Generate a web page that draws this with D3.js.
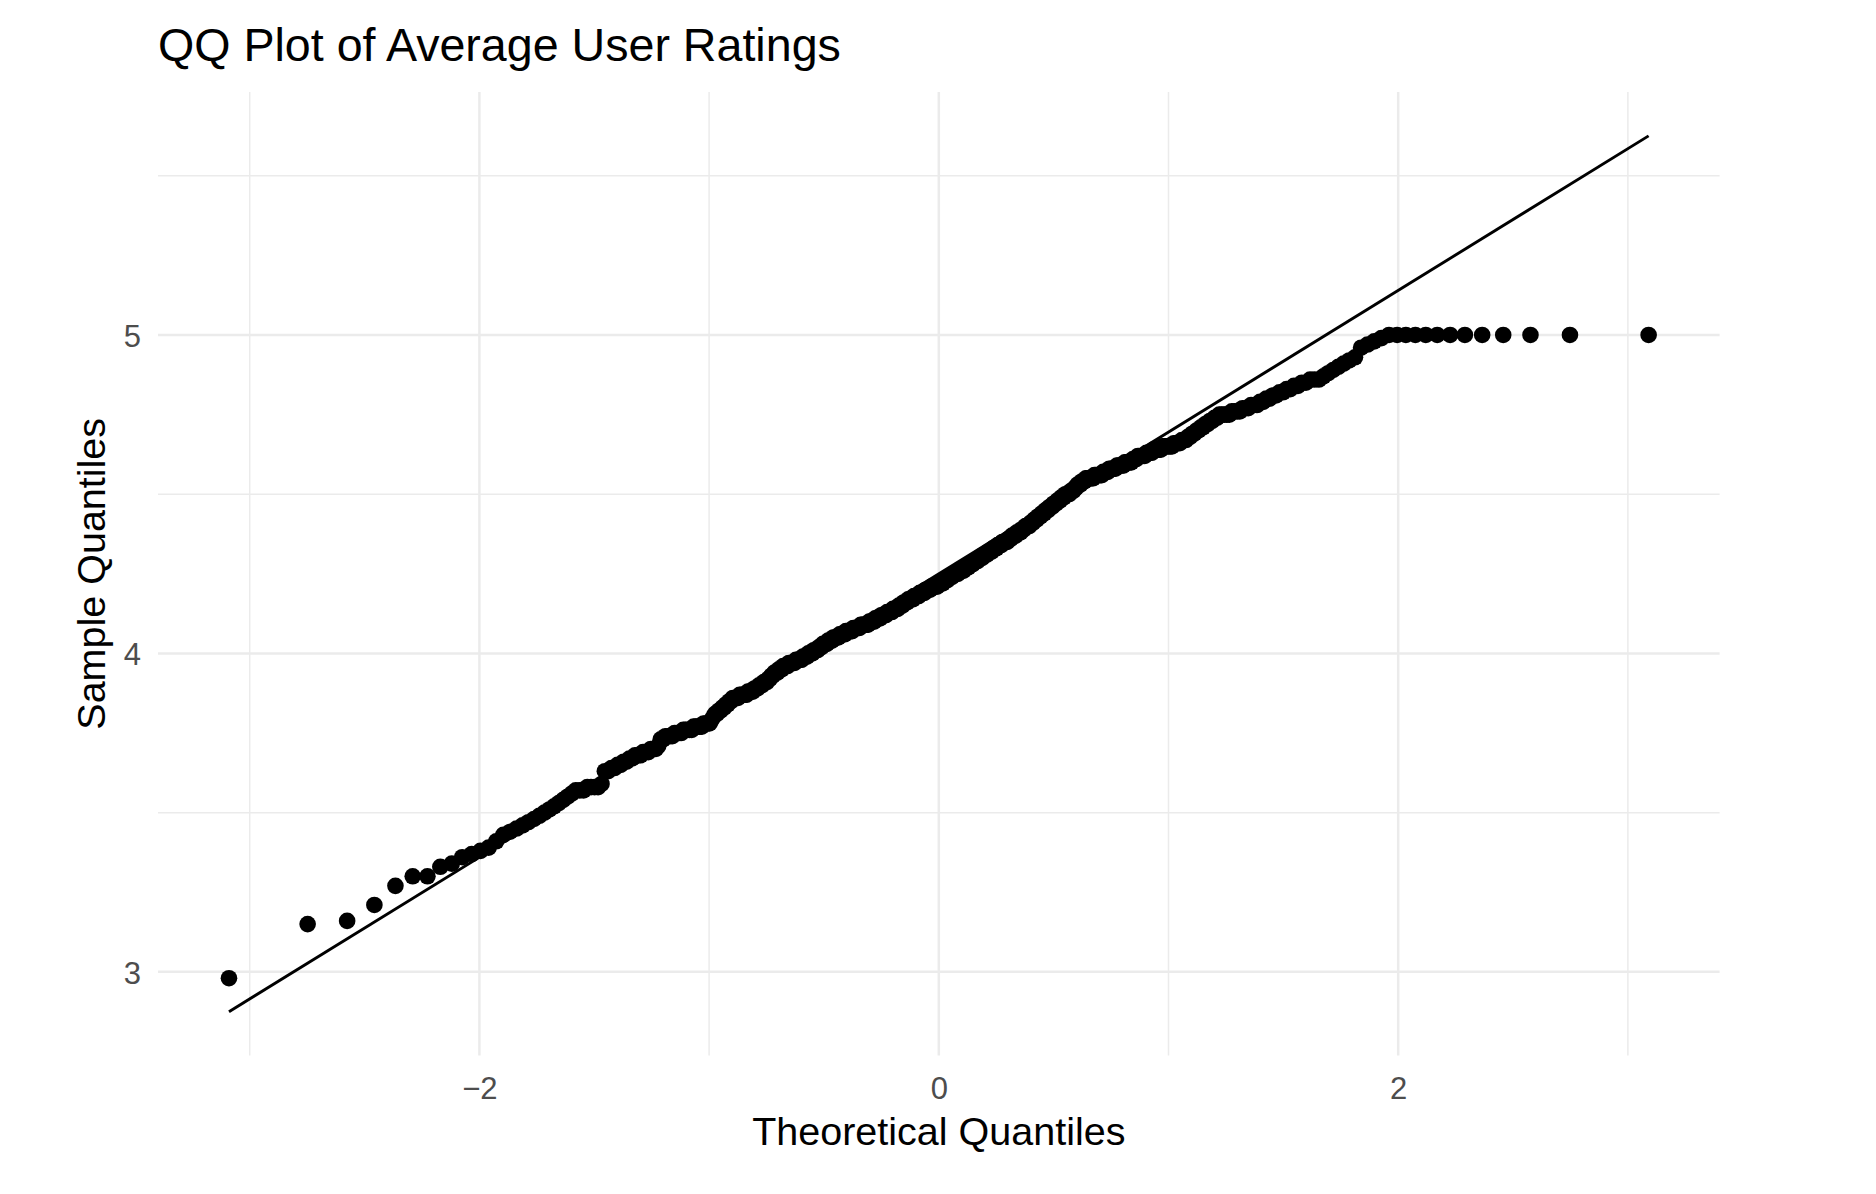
<!DOCTYPE html>
<html>
<head>
<meta charset="utf-8">
<script src="https://cdn.jsdelivr.net/npm/d3@7"></script>
<style>
  body { margin: 0; background: #ffffff; }
  svg { display: block; }
  text { font-family: "Liberation Sans", Arial, Helvetica, sans-serif; }
</style>
</head>
<body>
<svg id="chart" width="1876" height="1194"></svg>
<script>
// ---------------- data ----------------
const chartTitle = "QQ Plot of Average User Ratings";
const xAxisTitle = "Theoretical Quantiles";
const yAxisTitle = "Sample Quantiles";

const xMajorTicks = [-2, 0, 2];
const xTickLabels = ["\u22122", "0", "2"];
const xMinorTicks = [-3, -1, 1, 3];
const yMajorTicks = [3, 4, 5];
const yTickLabels = ["3", "4", "5"];
const yMinorTicks = [3.5, 4.5, 5.5];

// reference line (stat_qq_line)
const qqLineIntercept = 4.25;
const qqLineSlope = 0.445;

// sorted sample values (average user ratings), estimated rank by rank from the picture
const sampleRatings = [
  2.98,3.15,3.16,3.21,3.27,3.30,3.30,3.33,3.34,3.36,3.37,3.38,3.39,
  3.41,3.43,3.44,3.45,3.46,3.47,
  3.48,3.49,3.50,3.51,
  3.52,3.53,3.54,3.55,
  3.56,3.57,3.57,
  3.57,3.58,3.58,3.58,3.58,3.59,
  3.63,3.63,3.64,3.64,3.65,3.65,3.66,3.66,3.67,
  3.67,3.68,3.68,3.68,3.69,3.69,3.69,3.70,3.70,
  3.70,3.71,3.73,3.73,3.74,3.74,
  3.74,3.74,3.75,3.75,3.75,3.75,3.76,3.76,3.76,
  3.76,3.76,3.77,3.77,3.77,3.77,3.77,3.78,3.78,3.78,3.78,
  3.79,3.80,3.81,3.81,3.82,3.82,
  3.83,3.83,3.84,3.84,3.85,3.85,3.86,3.86,
  3.86,3.86,3.87,3.87,3.87,3.87,3.87,3.88,3.88,3.88,
  3.88,3.89,3.89,3.89,3.90,3.90,3.90,3.91,3.91,3.91,
  3.92,3.92,3.93,3.93,3.94,3.94,3.94,3.95,3.95,3.95,3.96,3.96,
  3.96,3.96,3.97,3.97,3.97,3.97,3.97,3.98,3.98,3.98,3.98,3.98,
  3.99,3.99,3.99,3.99,4.00,4.00,4.00,4.00,4.01,4.01,4.01,4.01,
  4.02,4.02,4.02,4.03,4.03,4.03,4.03,4.04,4.04,4.04,4.04,4.05,4.05,
  4.05,4.05,4.05,4.06,4.06,4.06,4.06,4.06,4.07,4.07,4.07,4.07,4.07,
  4.07,4.08,4.08,4.08,4.08,4.08,4.08,4.09,4.09,4.09,4.09,4.09,4.09,4.09,
  4.10,4.10,4.10,4.10,4.10,4.11,4.11,4.11,4.11,4.11,4.12,4.12,4.12,
  4.12,4.12,4.13,4.13,4.13,4.13,4.13,4.14,4.14,4.14,4.14,4.14,4.15,4.15,4.15,
  4.15,4.16,4.16,4.16,4.16,4.17,4.17,4.17,4.17,4.17,4.18,4.18,4.18,4.18,
  4.18,4.19,4.19,4.19,4.19,4.19,4.20,4.20,4.20,4.20,4.20,4.21,4.21,4.21,4.21,4.21,4.21,4.22,4.22,
  4.22,4.22,4.22,4.23,4.23,4.23,4.23,4.24,4.24,4.24,4.24,4.25,4.25,4.25,4.25,4.25,4.26,4.26,4.26,
  4.26,4.26,4.27,4.27,4.27,4.27,4.28,4.28,4.28,4.28,4.29,
  4.29,4.29,4.29,4.30,4.30,4.30,4.30,4.31,4.31,4.31,4.31,4.32,4.32,4.32,4.32,4.33,4.33,4.33,4.33,4.34,4.34,4.34,4.34,4.35,4.35,4.35,4.35,4.35,
  4.36,4.36,4.36,4.37,4.37,4.37,4.37,4.38,4.38,4.38,4.38,4.39,4.39,4.39,4.40,4.40,4.40,4.40,4.41,4.41,4.41,4.42,4.42,4.42,4.43,4.43,4.43,
  4.44,4.44,4.44,4.45,4.45,4.45,4.46,4.46,4.46,4.47,4.47,4.47,4.48,4.48,4.48,4.49,4.49,4.49,4.50,4.50,4.50,4.50,4.51,4.51,4.51,
  4.52,4.52,4.53,4.53,4.53,4.54,4.54,4.54,4.55,4.55,4.55,4.55,
  4.55,4.55,4.56,4.56,4.56,4.56,4.56,4.56,4.57,4.57,4.57,4.57,
  4.58,4.58,4.58,4.58,4.58,4.59,4.59,4.59,4.59,4.59,
  4.60,4.60,4.60,4.60,4.60,4.61,4.61,4.61,4.62,4.62,
  4.62,4.62,4.62,4.63,4.63,4.63,4.63,4.64,4.64,4.64,4.64,4.64,4.65,4.65,4.65,4.65,
  4.65,4.65,4.66,4.66,4.66,4.66,4.67,4.67,4.67,
  4.68,4.68,4.69,4.69,4.70,4.70,4.71,4.71,
  4.72,4.72,4.73,4.73,4.74,4.74,4.75,
  4.75,4.75,4.75,4.75,4.76,4.76,4.76,
  4.76,4.77,4.77,4.77,4.78,4.78,
  4.78,4.79,4.79,4.80,4.80,
  4.81,4.81,4.82,4.82,4.83,
  4.83,4.84,4.84,4.85,
  4.85,4.86,4.86,4.86,
  4.87,4.88,4.89,4.90,
  4.91,4.92,4.93,
  4.96,4.97,4.98,
  4.99,5.00,
  5.00,5.00,5.00,5.00,5.00,5.00,5.00,5.00,5.00,5.00,5.00,5.00
];

// ---------------- statistical transform (as stat_qq does) ----------------
function qnorm(p) {
  const a = [-3.969683028665376e+01, 2.209460984245205e+02, -2.759285104469687e+02,
             1.383577518672690e+02, -3.066479806614716e+01, 2.506628277459239e+00];
  const b = [-5.447609879822406e+01, 1.615858368580409e+02, -1.556989798598866e+02,
             6.680131188771972e+01, -1.328068155288572e+01];
  const c = [-7.784894002430293e-03, -3.223964580411365e-01, -2.400758277161838e+00,
             -2.549732539343734e+00, 4.374664141464968e+00, 2.938163982698783e+00];
  const d = [7.784695709041462e-03, 3.224671290700398e-01, 2.445134137142996e+00,
             3.754408661907416e+00];
  const pl = 0.02425, ph = 1 - pl;
  let q, r;
  if (p < pl) {
    q = Math.sqrt(-2 * Math.log(p));
    return (((((c[0]*q+c[1])*q+c[2])*q+c[3])*q+c[4])*q+c[5]) / ((((d[0]*q+d[1])*q+d[2])*q+d[3])*q+1);
  }
  if (p > ph) {
    q = Math.sqrt(-2 * Math.log(1 - p));
    return -(((((c[0]*q+c[1])*q+c[2])*q+c[3])*q+c[4])*q+c[5]) / ((((d[0]*q+d[1])*q+d[2])*q+d[3])*q+1);
  }
  q = p - 0.5; r = q * q;
  return (((((a[0]*r+a[1])*r+a[2])*r+a[3])*r+a[4])*r+a[5])*q / (((((b[0]*r+b[1])*r+b[2])*r+b[3])*r+b[4])*r+1);
}

const sorted = sampleRatings.slice().sort(d3.ascending);
const n = sorted.length;
const points = sorted.map((v, i) => ({ theo: qnorm((i + 0.5) / n), sample: v }));

// ---------------- layout ----------------
const W = 1876, H = 1194;
const margin = { top: 92.1, right: 156.4, bottom: 138.5, left: 158 };
const pw = W - margin.left - margin.right;
const ph = H - margin.top - margin.bottom;

const xExt = d3.extent(points, d => d.theo);
const lineY = xExt.map(t => qqLineIntercept + qqLineSlope * t);
const yExt = d3.extent(points.map(d => d.sample).concat(lineY));
const expand = (e) => { const s = (e[1] - e[0]) * 0.05; return [e[0] - s, e[1] + s]; };

const x = d3.scaleLinear().domain(expand(xExt)).range([0, pw]);
const y = d3.scaleLinear().domain(expand(yExt)).range([ph, 0]);

const svg = d3.select("#chart");
svg.append("rect").attr("width", W).attr("height", H).attr("fill", "#ffffff");

const g = svg.append("g").attr("transform", `translate(${margin.left},${margin.top})`);

// grid lines
const gridColor = "#ebebeb";
g.append("g").selectAll("line.vmin").data(xMinorTicks).join("line")
  .attr("x1", d => x(d)).attr("x2", d => x(d)).attr("y1", 0).attr("y2", ph)
  .attr("stroke", gridColor).attr("stroke-width", 1.5);
g.append("g").selectAll("line.hmin").data(yMinorTicks).join("line")
  .attr("x1", 0).attr("x2", pw).attr("y1", d => y(d)).attr("y2", d => y(d))
  .attr("stroke", gridColor).attr("stroke-width", 1.5);
g.append("g").selectAll("line.vmaj").data(xMajorTicks).join("line")
  .attr("x1", d => x(d)).attr("x2", d => x(d)).attr("y1", 0).attr("y2", ph)
  .attr("stroke", gridColor).attr("stroke-width", 2.5);
g.append("g").selectAll("line.hmaj").data(yMajorTicks).join("line")
  .attr("x1", 0).attr("x2", pw).attr("y1", d => y(d)).attr("y2", d => y(d))
  .attr("stroke", gridColor).attr("stroke-width", 2.5);

// points
g.append("g").selectAll("circle").data(points).join("circle")
  .attr("cx", d => x(d.theo)).attr("cy", d => y(d.sample))
  .attr("r", 8.3).attr("fill", "#000000");

// qq line
g.append("line")
  .attr("x1", x(xExt[0])).attr("y1", y(lineY[0]))
  .attr("x2", x(xExt[1])).attr("y2", y(lineY[1]))
  .attr("stroke", "#000000").attr("stroke-width", 2.9);

// axes (labels only, as in theme_minimal)
const xAxis = d3.axisBottom(x).tickValues(xMajorTicks)
  .tickFormat((d, i) => xTickLabels[i]).tickSize(0).tickPadding(21.5);
const gx = g.append("g").attr("transform", `translate(0,${ph})`).call(xAxis);
gx.select(".domain").remove();
gx.selectAll("text").attr("fill", "#4d4d4d").attr("font-size", 31)
  .attr("font-family", "'Liberation Sans', Arial, Helvetica, sans-serif");

const yAxis = d3.axisLeft(y).tickValues(yMajorTicks)
  .tickFormat((d, i) => yTickLabels[i]).tickSize(0).tickPadding(17);
const gy = g.append("g").call(yAxis);
gy.select(".domain").remove();
gy.selectAll("text").attr("fill", "#4d4d4d").attr("font-size", 31).attr("dy", "0.37em")
  .attr("font-family", "'Liberation Sans', Arial, Helvetica, sans-serif");

// titles
svg.append("text").attr("x", margin.left).attr("y", 60.7)
  .attr("font-size", 46.6).attr("fill", "#000000").text(chartTitle);

svg.append("text").attr("x", margin.left + pw / 2).attr("y", 1145)
  .attr("text-anchor", "middle").attr("font-size", 39.5).attr("fill", "#000000").text(xAxisTitle);

svg.append("text")
  .attr("transform", `translate(105,${margin.top + ph / 2}) rotate(-90)`)
  .attr("text-anchor", "middle").attr("font-size", 39.5).attr("fill", "#000000").text(yAxisTitle);
</script>
</body>
</html>
